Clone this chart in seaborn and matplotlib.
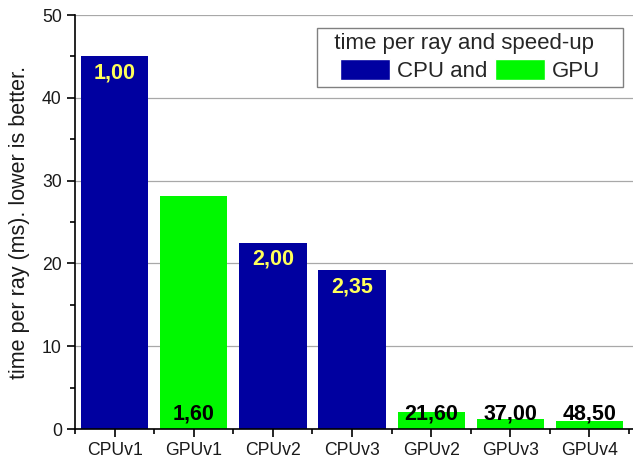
import matplotlib
matplotlib.use("Agg")
import matplotlib.pyplot as plt
from matplotlib.ticker import MultipleLocator, FixedLocator
from matplotlib.patches import Patch
import seaborn as sns
import pandas as pd

versions = ["CPUv1", "GPUv1", "CPUv2", "CPUv3", "GPUv2", "GPUv3", "GPUv4"]
device = ["CPU", "GPU", "CPU", "CPU", "GPU", "GPU", "GPU"]
time_ms = [45.0, 28.1, 22.5, 19.15, 2.08, 1.22, 0.93]
speedup = ["1,00", "1,60", "2,00", "2,35", "21,60", "37,00", "48,50"]

palette = {"CPU": "#0000A0", "GPU": "#00F800"}

sns.set_theme(style="white")
plt.rcParams["font.family"] = ["Liberation Sans", "DejaVu Sans"]

df = pd.DataFrame({"version": versions, "device": device, "time": time_ms})

fig = plt.figure(figsize=(6.33, 4.62), dpi=100)
ax = fig.add_axes([0.1185, 0.0714, 0.8815, 0.8961])

sns.barplot(data=df, x="version", y="time", hue="device", palette=palette,
            dodge=False, width=0.85, order=versions, ax=ax, legend=False,
            edgecolor="none", saturation=1)

ax.set_ylim(0, 50)
ax.set_xlim(-0.5, 6.55)
ax.yaxis.set_major_locator(MultipleLocator(10))
ax.yaxis.set_minor_locator(MultipleLocator(5))
ax.xaxis.set_minor_locator(FixedLocator([i + 0.5 for i in range(-1, 7)]))
ax.grid(axis="y", which="major", color="#a8a8a8", linewidth=0.9)
ax.set_axisbelow(True)

for s in ["top", "right"]:
    ax.spines[s].set_visible(False)
for s in ["left", "bottom"]:
    ax.spines[s].set_color("black")
    ax.spines[s].set_linewidth(1.2)

ax.tick_params(axis="both", which="major", direction="out", length=6, width=1.2,
               color="black", labelsize=12.7, labelcolor="#1a1a1a", left=True, bottom=True)
ax.tick_params(axis="both", which="minor", direction="out", length=3.5, width=1.2,
               color="black", left=True, bottom=True)

ax.set_xlabel("")
ax.set_ylabel("time per ray (ms). lower is better.", fontsize=15.5, color="#1a1a1a")
ax.yaxis.set_label_coords(-0.08, 0.5)

for i, (t, d, s) in enumerate(zip(time_ms, device, speedup)):
    if d == "CPU":
        ax.text(i, t - 0.75, s, ha="center", va="top", color="#FFFF5A",
                fontsize=15.5, fontweight="bold")
    else:
        ax.text(i, 1.2, s, ha="center", va="baseline", color="black",
                fontsize=15.5, fontweight="bold")

handles = [Patch(facecolor=palette["CPU"], label="CPU and"),
           Patch(facecolor=palette["GPU"], label="GPU")]
leg = ax.legend(handles=handles, title="  time per ray and speed-up    ", ncol=2,
                loc="upper left", bbox_to_anchor=(0.4337, 0.9686), fontsize=16,
                title_fontsize=16, frameon=True, fancybox=False,
                handlelength=2.25, handleheight=1.08, handletextpad=0.32,
                columnspacing=0.36, borderpad=0.22, labelspacing=0.22,
                borderaxespad=0)
leg.get_frame().set_edgecolor("#606060")
leg.get_frame().set_linewidth(1.0)

fig.savefig("out.png", dpi=100)
